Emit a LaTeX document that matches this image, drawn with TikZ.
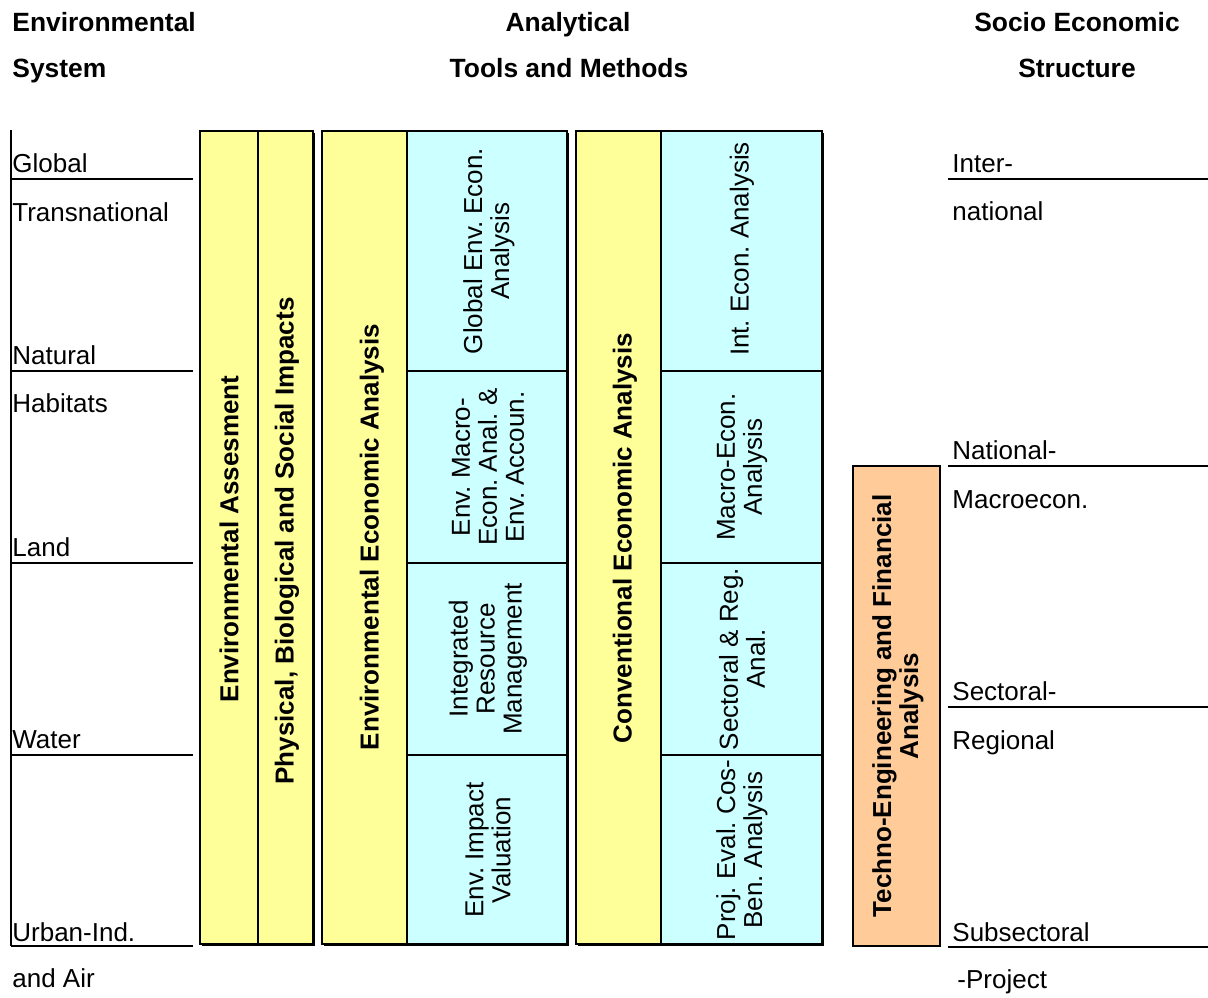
\documentclass[tikz,border=0pt]{standalone}
\usepackage{fontspec}
\setmainfont{Liberation Sans}
\frenchspacing
\definecolor{paleyellow}{RGB}{255,255,153}
\definecolor{palecyan}{RGB}{204,255,255}
\definecolor{paleorange}{RGB}{255,204,153}
\tikzset{
  txt/.style={inner sep=0pt, font=\fontsize{13}{13.5}\selectfont},
  hdr/.style={txt, font=\fontsize{13.2}{13.5}\selectfont\bfseries},
  lbl/.style={txt, anchor=base west},
  vtxt/.style={txt, rotate=90, align=center},
  vbold/.style={vtxt, font=\fontsize{13}{13.5}\selectfont\bfseries},
  rule/.style={line width=1pt},
  frame/.style={draw=black, line width=0.7pt},
  cellline/.style={draw=black, line width=0.6pt},
  shadowfill/.style={fill=black},
}
\begin{document}
\begin{tikzpicture}[x=0.5pt,y=-0.5pt]
\useasboundingbox (0,0) rectangle (1208,997);

% column headings
\node[hdr, anchor=base west] (envA) at (12,31) {Environmental};
\node[hdr, anchor=base west] (envB) at (12,77) {System};
\node[hdr, anchor=base] (toolA) at (568,31) {Analytical};
\node[hdr, anchor=base] (toolB) at (569,77) {Tools and Methods};
\node[hdr, anchor=base] (socA) at (1077,31) {Socio Economic};
\node[hdr, anchor=base] (socB) at (1077,77) {Structure};

% environmental system scale (left)
\draw[rule] (11,130) -- (11,946);
\foreach \yy in {179,371,563,755,946} \draw[rule] (11,\yy) -- (193,\yy);
\node[lbl] (global) at (12,172) {Global};
\node[lbl] (transn) at (12,221) {Transnational};
\node[lbl] (natural) at (12,364) {Natural};
\node[lbl] (habitats) at (12,412) {Habitats};
\node[lbl] (land) at (12,556) {Land};
\node[lbl] (water) at (12,748) {Water};
\node[lbl] (urban) at (12,941) {Urban-Ind.};
\node[lbl] (air) at (12,987) {and Air};

% socio economic scale (right)
\foreach \yy in {179,466,707,947} \draw[rule] (948,\yy) -- (1208,\yy);
\node[lbl] (inter) at (952,172) {Inter-};
\node[lbl] (national) at (952,220) {national};
\node[lbl] (natmacro) at (952,459) {National-};
\node[lbl] (macro) at (952,508) {Macroecon.};
\node[lbl] (sect) at (952,700) {Sectoral-};
\node[lbl] (regional) at (952,749) {Regional};
\node[lbl] (subsect) at (952,941) {Subsectoral};
\node[lbl] (project) at (957,988) {-Project};

% block 1: assessment columns
\fill[shadowfill] (202,133) rectangle (315,946);
\fill[paleyellow] (200,131) rectangle (313,944);
\draw[frame] (200,131) rectangle (313,944);
\draw[cellline] (258,131) -- (258,944);
\node[vbold] (assess) at (229,539) {Environmental Assesment};
\node[vbold] (impacts) at (287,541) {Physical, Biological and Social Impacts};

% block 2: environmental economic analysis
\fill[shadowfill] (324,133) rectangle (569,946);
\fill[paleyellow] (322,131) rectangle (407,944);
\fill[palecyan] (407,131) rectangle (567,944);
\draw[frame] (322,131) rectangle (567,944);
\draw[cellline] (407,131) -- (407,944);
\foreach \yy in {371,563,755} \draw[cellline] (407,\yy) -- (567,\yy);
\node[vbold] (envecon) at (372,537) {Environmental Economic Analysis};
\node[vtxt] (globenv) at (489,251) {Global Env. Econ.\\Analysis};
\node[vtxt] (envmacro) at (488,467) {Env. Macro-\\Econ. Anal. \&\\Env. Accoun.};
\node[vtxt] (irm) at (488,659) {Integrated\\Resource\\Management};
\node[vtxt] (eiv) at (488,850) {Env. Impact\\Valuation};

% block 3: conventional economic analysis
\fill[shadowfill] (578,133) rectangle (824,946);
\fill[paleyellow] (576,131) rectangle (661,944);
\fill[palecyan] (661,131) rectangle (822,944);
\draw[frame] (576,131) rectangle (822,944);
\draw[cellline] (661,131) -- (661,944);
\foreach \yy in {371,563,755} \draw[cellline] (661,\yy) -- (822,\yy);
\node[vbold] (convecon) at (625,538) {Conventional Economic Analysis};
\node[vtxt] (intecon) at (742,249) {Int. Econ. Analysis};
\node[vtxt] (macroecon) at (742,467) {Macro-Econ.\\Analysis};
\node[vtxt] (sectreg) at (742,659) {Sectoral \& Reg.\\Anal.};
\node[vtxt] (projeval) at (742,850) {Proj. Eval. Cos-\\Ben. Analysis};

% techno-engineering block
\fill[paleorange] (853,466) rectangle (940,946);
\draw[frame, line width=0.85pt] (853,466) rectangle (940,946);
\node[vbold] (techno) at (898,706) {Techno-Engineering and Financial\\Analysis};
\end{tikzpicture}
\end{document}
